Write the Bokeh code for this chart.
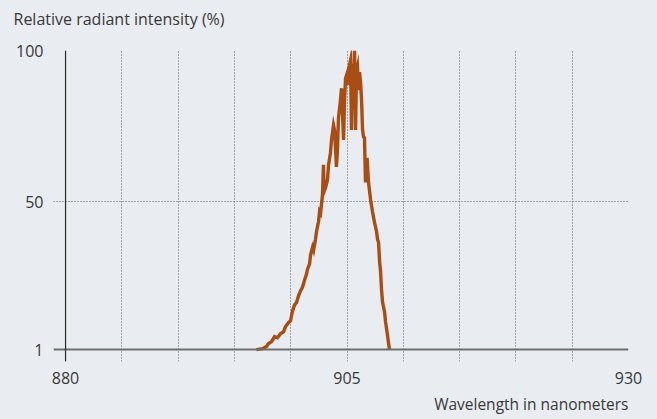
from bokeh.plotting import figure
from bokeh.models import FixedTicker, Span, Range1d, Title
from bokeh.embed import file_html
from bokeh.resources import INLINE

# ---- data ----
wavelength_nm = [
    896.96, 897.50, 897.85, 898.03, 898.29, 898.56, 898.83, 899.10, 899.36, 899.54,
    899.80, 899.98, 900.16, 900.34, 900.51, 900.69, 900.87, 901.05, 901.23, 901.40,
    901.49, 901.67, 901.76, 901.94, 902.03, 902.20, 902.29, 902.47, 902.56, 902.65,
    902.82, 902.91, 902.96, 903.09, 903.27, 903.36, 903.53, 903.62, 903.80, 903.89,
    904.06, 904.15, 904.24, 904.42, 904.51, 904.69, 904.78, 904.87, 905.04, 905.13,
    905.22, 905.31, 905.40, 905.49, 905.58, 905.67, 905.76, 905.84, 905.93, 906.02,
    906.11, 906.20, 906.29, 906.38, 906.47, 906.55, 906.64, 906.78, 906.91, 907.09,
    907.26, 907.44, 907.62, 907.71, 907.80, 907.89, 907.98, 908.06, 908.15, 908.33,
    908.42, 908.51, 908.60, 908.69, 908.77,
]
intensity_pct = [
    1.0, 1.3, 2.0, 3.0, 3.6, 5.3, 4.9, 6.3, 6.9, 8.6,
    9.9, 10.5, 13.8, 15.8, 16.5, 18.8, 20.4, 21.7, 24.0, 26.0,
    27.6, 29.3, 32.3, 34.9, 33.9, 37.5, 40.1, 43.4, 46.7, 46.1,
    52.3, 62.2, 53.3, 54.6, 57.3, 62.2, 66.1, 70.4, 75.3, 73.7,
    61.5, 67.1, 77.6, 83.6, 87.5, 70.4, 83.6, 90.8, 92.8, 88.5,
    95.1, 96.7, 73.7, 95.7, 86.9, 100.0, 73.7, 93.4, 94.8, 86.9,
    92.8, 89.5, 83.6, 73.7, 71.4, 71.1, 56.3, 64.5, 56.3, 50.7,
    46.7, 43.1, 40.1, 37.5, 36.5, 30.3, 26.7, 21.1, 16.8, 13.5,
    10.2, 7.9, 5.6, 3.0, 1.0,
]
x_tick_labels = [880, 905, 930]
x_grid_ticks = [880, 885, 890, 895, 900, 905, 910, 915, 920, 925, 930]
y_tick_labels = [1, 50, 100]
y_grid_ticks = [50, 100]
y_title = "Relative radiant intensity (%)"
x_title = "Wavelength in nanometers"

BG = "#e9edf1"
TXT = "#383838"
CURVE = "#a84e14"
FONT = "Open Sans"

p = figure(width=657, height=419, output_backend="svg", toolbar_location=None,
           x_range=Range1d(878.93, 930), y_range=Range1d(-2.95, 100),
           min_border_left=53, min_border_right=29, min_border_top=50, min_border_bottom=56,
           background_fill_color=BG, border_fill_color=BG, outline_line_color=None)

# spacer panel between frame and the title (pushes the title upward)
p.add_layout(Title(text=" ", standoff=13, text_font_size="1px", text_color=BG), "above")
p.title = Title(text=y_title, align="left", offset=-40, standoff=10,
                text_font=FONT, text_font_size="16px", text_color=TXT, text_font_style="normal")
p.add_layout(Title(text=x_title, align="right", offset=0, standoff=9,
                   text_font=FONT, text_font_size="15.5px", text_color=TXT,
                   text_font_style="normal"), "below")

# axes: labels only
for ax in (p.xaxis, p.yaxis):
    ax.axis_line_color = None
    ax.major_tick_line_color = None
    ax.minor_tick_line_color = None
    ax.major_tick_out = 0
    ax.major_tick_in = 0
    ax.major_label_text_font = FONT
    ax.major_label_text_font_size = "16px"
    ax.major_label_text_color = TXT
p.xaxis.ticker = FixedTicker(ticks=x_tick_labels)
p.yaxis.ticker = FixedTicker(ticks=y_tick_labels)
p.xaxis.major_label_standoff = 10
p.yaxis.major_label_standoff = 10

# dotted grid
p.xgrid.ticker = FixedTicker(ticks=x_grid_ticks)
p.ygrid.ticker = FixedTicker(ticks=y_grid_ticks)
for g in (p.xgrid, p.ygrid):
    g.grid_line_color = "#555555"
    g.grid_line_dash = "1 2"
    g.grid_line_width = 1

# baseline and vertical axis line
p.add_layout(Span(location=1, dimension="width", line_color="#6e6e6e", line_width=2))
p.add_layout(Span(location=880, dimension="height", line_color="#2a2a2a", line_width=1.2))

p.line(wavelength_nm, intensity_pct, line_color=CURVE, line_width=3.4, line_join="miter")

html = file_html(p, INLINE)
html = html.replace("</head>", "<style>body{background:%s;}</style></head>" % BG, 1)
open("out.html", "w").write(html)
